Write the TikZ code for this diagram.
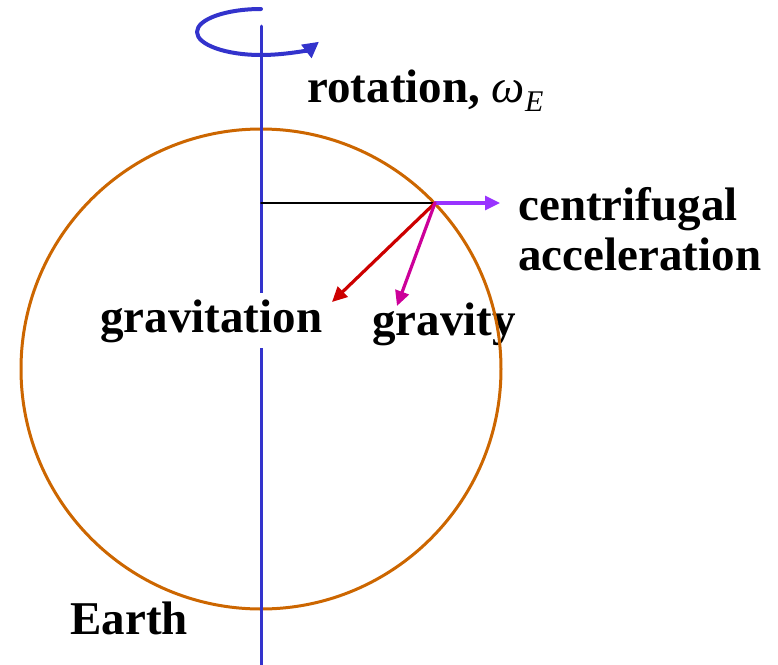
\documentclass[tikz,border=0pt]{standalone}
\usepackage{fontspec}
\setmainfont{Liberation Serif}
\usetikzlibrary{arrows.meta}
\definecolor{erAxis}{HTML}{3333CC}
\definecolor{erGlobe}{HTML}{CC6600}
\definecolor{erCentri}{HTML}{9933FF}
\definecolor{erGravit}{HTML}{CC0000}
\definecolor{erGravity}{HTML}{CC0099}
\tikzset{
 globe/.style={line cap=round,line join=round},
 axisline/.style={draw=erAxis,line width=1.5pt},
 spin/.style={draw=erAxis,line width=2pt,-{Triangle[length=8pt,width=8pt]}},
 earth/.style={draw=erGlobe,line width=1.5pt},
 radline/.style={draw=black,line width=.9pt},
 force/.style={line width=1.6pt,-{Triangle[length=7.5pt,width=7pt]}},
 lbl/.style={font=\fontsize{23.5}{26}\selectfont\bfseries,anchor=base west,inner sep=0pt}
}
\begin{document}
\begin{tikzpicture}[globe,x=0.5pt,y=-0.5pt]
 \useasboundingbox (0,0) rectangle (778,665);
 \coordinate (O) at (261,369);
 \coordinate (top) at (261,26);  \coordinate (bot) at (261,665);
 \coordinate (spinstart) at (261,9);
 \coordinate (C) at (261,203);   \coordinate (P) at (435,203);
 \coordinate (cf) at (500,203);
 \coordinate (gt) at (332,302);  \coordinate (gy) at (397,306);
 % labels under the globe
 \node[lbl] (gravity) at (372,335) {gravity};
 \draw[earth] (O) circle[radius=120pt];
 \draw[axisline] (top) -- (bot);
 \draw[spin] (spinstart) arc[start angle=90,end angle=335,x radius=32pt,y radius=11.5pt];
 \draw[radline] (C) -- (P);
 \draw[force,draw=erCentri,fill=erCentri] (P) -- (cf);
 \draw[force,draw=erGravit,fill=erGravit] (P) -- (gt);
 \draw[force,draw=erGravity,fill=erGravity] (P) -- (gy);
 % labels
 \node[lbl,fill=white,inner ysep=3pt] (gravitation) at (100,332) {gravitation};
 \node[lbl] (rotation) at (307,102) {rotation, {\mdseries\itshape ω\raisebox{-.45ex}{\fontsize{15}{15}\selectfont E}}};
 \node[lbl] (centrifugal) at (518,220) {centrifugal};
 \node[lbl] (acceleration) at (518,270) {acceleration};
 \node[lbl] (earthlbl) at (70,634) {Earth};
\end{tikzpicture}
\end{document}
